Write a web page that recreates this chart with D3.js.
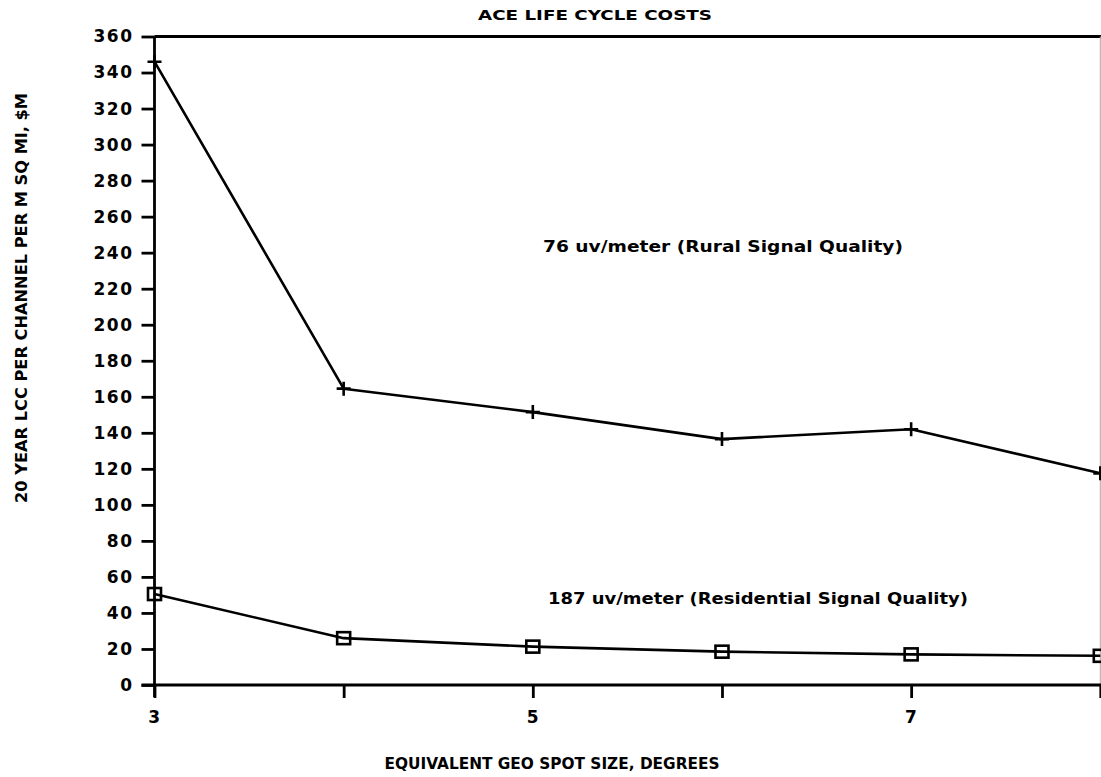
<!DOCTYPE html>
<meta charset="utf-8">
<style>
body { margin: 0; background: #fff; }
text { font-family: "DejaVu Sans", sans-serif; font-weight: bold; fill: #000; }
.axis path { display: none; }
.axis line { stroke: #000; stroke-width: 2.8px; }
.axis text { font-size: 17px; letter-spacing: 1.5px; }
.series { fill: none; stroke: #000; stroke-width: 2.6px; stroke-linejoin: round; }
.note { font-size: 15px; }
</style>
<body>
<svg width="1101" height="777"></svg>
<script src="https://d3js.org/d3.v7.min.js"></script>
<script>

var spotSize = [3, 4, 5, 6, 7, 8];
var rural = [346, 164.5, 151.5, 136.5, 142, 117.5];
var residential = [50.5, 26, 21.3, 18.5, 17, 16.2];
var yTicks = d3.range(0, 361, 20);
var xLabels = [3, 5, 7];

var svg = d3.select("svg");

var x = d3.scaleLinear().domain([3, 8]).range([154.5, 1100.3]);
var y = d3.scaleLinear().domain([0, 360]).range([685, 36.5]);

// frame: top + right
svg.append("line")
    .attr("x1", x(3)).attr("x2", 1101)
    .attr("y1", y(360)).attr("y2", y(360))
    .attr("stroke", "#000").attr("stroke-width", 3);
svg.append("line")
    .attr("x1", x(8)).attr("x2", x(8))
    .attr("y1", y(360)).attr("y2", y(0))
    .attr("stroke", "#aaa").attr("stroke-width", 1);

// axis lines
svg.append("line")
    .attr("x1", x(3)).attr("x2", x(3))
    .attr("y1", y(360)).attr("y2", y(0) + 12)
    .attr("stroke", "#000").attr("stroke-width", 2.8);
svg.append("line")
    .attr("x1", x(3) - 13).attr("x2", 1101)
    .attr("y1", y(0)).attr("y2", y(0))
    .attr("stroke", "#000").attr("stroke-width", 3);

svg.append("g")
    .attr("class", "axis")
    .attr("transform", "translate(" + x(3) + ",0)")
    .call(d3.axisLeft(y).tickValues(yTicks).tickSize(13).tickPadding(8).tickFormat(d3.format("d")));

svg.append("g")
    .attr("class", "axis")
    .attr("transform", "translate(0," + y(0) + ")")
    .call(d3.axisBottom(x).tickValues(spotSize).tickSize(13).tickPadding(13)
      .tickFormat(function(d) { return xLabels.indexOf(d) >= 0 ? d : ""; }));

// series
var line = d3.line()
    .x(function(d) { return x(d[0]); })
    .y(function(d) { return y(d[1]); });

var ruralPts = spotSize.map(function(s, i) { return [s, rural[i]]; });
var resPts = spotSize.map(function(s, i) { return [s, residential[i]]; });

svg.append("path").attr("class", "series").attr("d", line(ruralPts));
svg.append("path").attr("class", "series").attr("d", line(resPts));

// plus markers
svg.append("g").selectAll("path")
    .data(ruralPts)
    .enter().append("path")
      .attr("d", function(d) {
        var cx = x(d[0]), cy = y(d[1]);
        return "M" + (cx - 7) + "," + cy + "H" + (cx + 7) + "M" + cx + "," + (cy - 7) + "V" + (cy + 7);
      })
      .attr("stroke", "#000").attr("stroke-width", 2.6);

// square markers
svg.append("g").selectAll("rect")
    .data(resPts)
    .enter().append("rect")
      .attr("x", function(d) { return x(d[0]) - 6.5; })
      .attr("y", function(d) { return y(d[1]) - 6; })
      .attr("width", 13).attr("height", 12)
      .attr("fill", "none").attr("stroke", "#000").attr("stroke-width", 2.6);

// texts
svg.append("text")
    .attr("x", 595).attr("y", 20)
    .attr("text-anchor", "middle")
    .attr("font-size", 14)
    .attr("textLength", 234).attr("lengthAdjust", "spacingAndGlyphs")
    .text("ACE LIFE CYCLE COSTS");

svg.append("text")
    .attr("x", 552).attr("y", 769)
    .attr("text-anchor", "middle")
    .attr("font-size", 15)
    .attr("textLength", 335).attr("lengthAdjust", "spacingAndGlyphs")
    .text("EQUIVALENT GEO SPOT SIZE, DEGREES");

svg.append("text")
    .attr("transform", "translate(27,298) rotate(-90)")
    .attr("text-anchor", "middle")
    .attr("font-size", 15)
    .attr("textLength", 410).attr("lengthAdjust", "spacingAndGlyphs")
    .text("20 YEAR LCC PER CHANNEL PER M SQ MI, $M");

svg.append("text")
    .attr("class", "note")
    .attr("x", 543).attr("y", 252)
    .attr("textLength", 360).attr("lengthAdjust", "spacingAndGlyphs")
    .text("76 uv/meter (Rural Signal Quality)");

svg.append("text")
    .attr("class", "note")
    .attr("x", 548).attr("y", 604)
    .attr("textLength", 420).attr("lengthAdjust", "spacingAndGlyphs")
    .text("187 uv/meter (Residential Signal Quality)");

</script>
</body>
